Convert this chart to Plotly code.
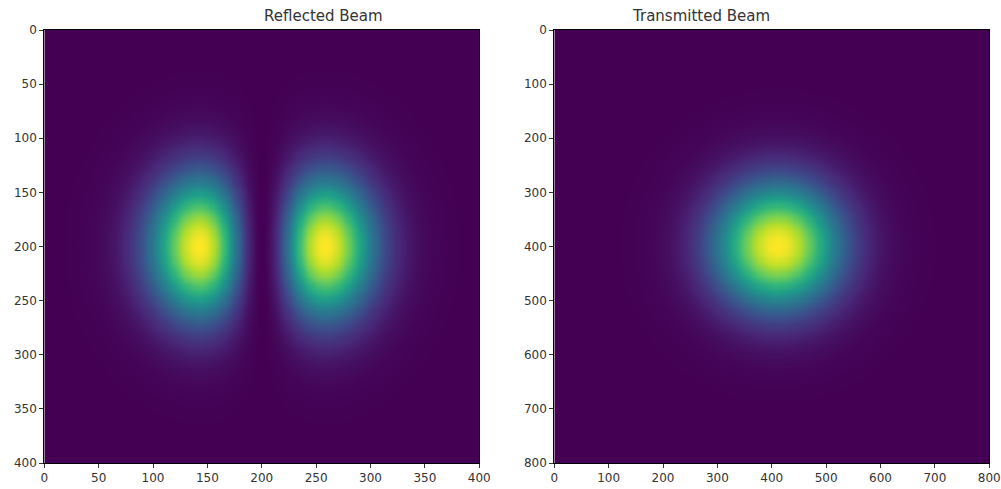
import numpy as np
import plotly.graph_objects as go

# ---- values ----
titles = ["Reflected Beam", "Transmitted Beam"]
refl_extent = [0, 400]          # pixel extent of reflected image
trans_extent = [0, 800]         # pixel extent of transmitted image
refl_center = [200, 200]        # (x, y) of the null between the lobes
refl_width = [82, 90]           # beam radius in x, y
trans_center = [410, 398]       # (x, y) of transmitted spot
trans_width = [160, 160]        # beam radius in x, y
refl_ticks = [0, 50, 100, 150, 200, 250, 300, 350, 400]
trans_ticks = [0, 100, 200, 300, 400, 500, 600, 700, 800]

# ---- build intensity maps ----
xr = np.linspace(refl_extent[0], refl_extent[1], 201)
yr = np.linspace(refl_extent[0], refl_extent[1], 201)
XR, YR = np.meshgrid(xr, yr)
dxr = XR - refl_center[0]
dyr = YR - refl_center[1]
zr = dxr**2 * np.exp(-2 * (dxr**2 / refl_width[0]**2 + dyr**2 / refl_width[1]**2))
zr = zr / zr.max()

xt = np.linspace(trans_extent[0], trans_extent[1], 201)
yt = np.linspace(trans_extent[0], trans_extent[1], 201)
XT, YT = np.meshgrid(xt, yt)
zt = np.exp(-2 * ((XT - trans_center[0])**2 / trans_width[0]**2 + (YT - trans_center[1])**2 / trans_width[1]**2))

fig = go.Figure()
fig.add_trace(go.Heatmap(x=xr, y=yr, z=zr, colorscale="Viridis", showscale=False,
                         zsmooth="best", xaxis="x", yaxis="y", hoverinfo="skip"))
fig.add_trace(go.Heatmap(x=xt, y=yt, z=zt, colorscale="Viridis", showscale=False,
                         zsmooth="best", xaxis="x2", yaxis="y2", hoverinfo="skip"))

W, H = 1001, 489
l1, r1 = 44.3 / W, 479.3 / W
l2, r2 = 554.3 / W, 989.3 / W
top, bot = 1 - 30 / H, 1 - 463 / H

axis_common = dict(showline=True, linecolor="black", linewidth=1, mirror=True,
                   ticks="outside", ticklen=4, tickcolor="#333", tickwidth=1,
                   showgrid=False, zeroline=False, automargin=False,
                   tickfont=dict(family="DejaVu Sans", size=12, color="#333"))

fig.update_layout(
    width=W, height=H, margin=dict(l=0, r=0, t=0, b=0, autoexpand=False),
    paper_bgcolor="white", plot_bgcolor="white", showlegend=False,
    xaxis=dict(domain=[l1, r1], range=refl_extent, tickvals=refl_ticks, anchor="y", **axis_common),
    yaxis=dict(domain=[bot, top], range=refl_extent[::-1], tickvals=refl_ticks, anchor="x", **axis_common),
    xaxis2=dict(domain=[l2, r2], range=trans_extent, tickvals=trans_ticks, anchor="y2", **axis_common),
    yaxis2=dict(domain=[bot, top], range=trans_extent[::-1], tickvals=trans_ticks, anchor="x2", **axis_common),
    annotations=[
        dict(text=titles[0], x=(l1 + r1) / 2, y=1 - 16 / H, xref="paper", yref="paper",
             showarrow=False, font=dict(family="DejaVu Sans", size=15, color="#333"), yanchor="middle"),
        dict(text=titles[1], x=(l2 + r2) / 2, y=1 - 16 / H, xref="paper", yref="paper",
             showarrow=False, font=dict(family="DejaVu Sans", size=15, color="#333"), yanchor="middle"),
    ],
)

fig.write_html("out.html", config={"displayModeBar": False},
               post_script="document.body.style.margin='0';document.body.style.overflow='hidden';")
